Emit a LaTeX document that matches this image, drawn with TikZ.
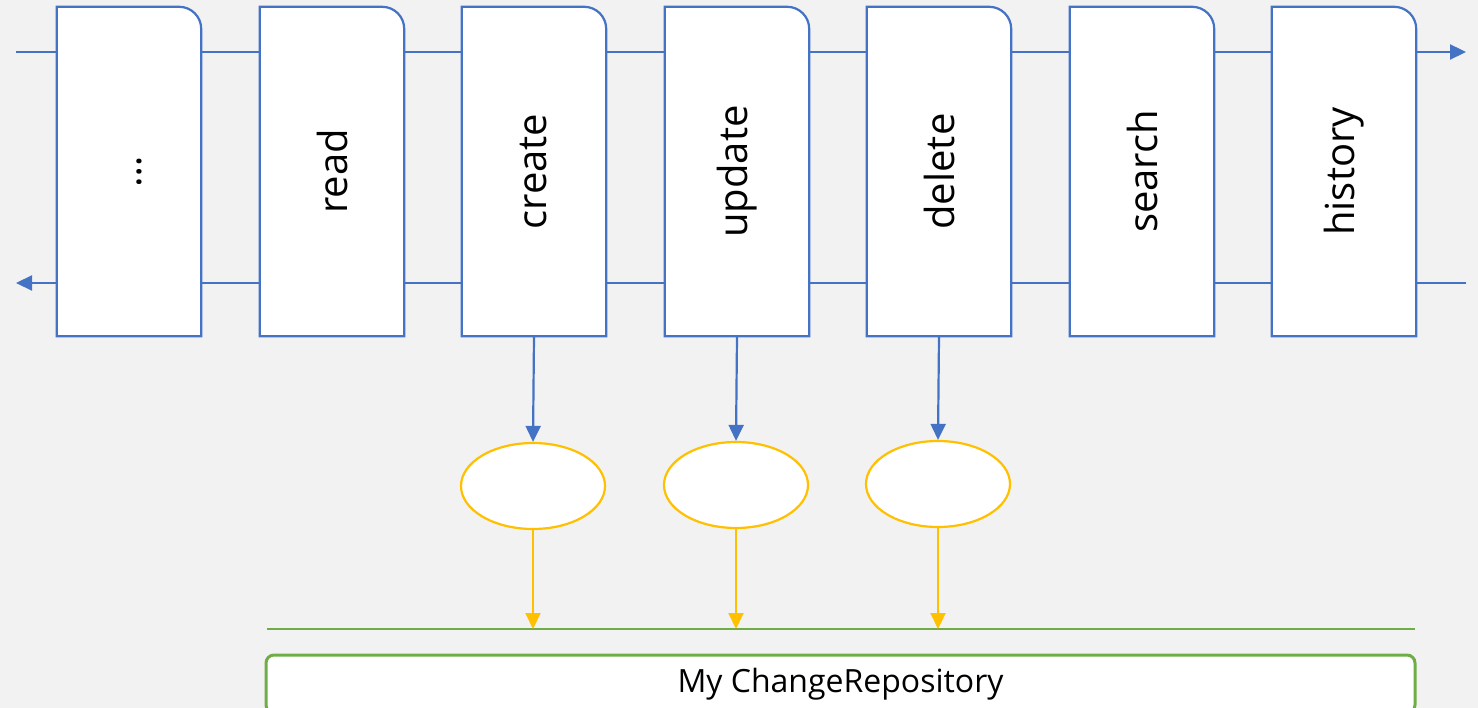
\documentclass[tikz,border=0pt]{standalone}
\usepackage{fontspec}
\setmainfont{Open Sans}
\usetikzlibrary{arrows.meta,shapes.geometric}
\definecolor{flowblue}{HTML}{4472C4}
\definecolor{evtyellow}{HTML}{FFC000}
\definecolor{repogreen}{HTML}{70AD47}
\definecolor{canvasgray}{HTML}{F2F2F2}
\pgfdeclarelayer{back}
\pgfdeclarelayer{mid}
\pgfsetlayers{back,mid,main}
% outline of an operation box: only the top right corner is rounded
\newcommand\opoutline[1]{%
  \draw[boxline] (#1.south west) -- (#1.north west)
    -- ([xshift=-22pt]#1.north east) arc[start angle=90,end angle=0,radius=22pt]
    -- (#1.south east) -- cycle;}
\begin{document}
\begin{tikzpicture}[x=1pt,y=1pt,
  opbox/.style={minimum width=144pt,minimum height=329pt,inner sep=0pt,
    font=\fontsize{40}{48}\selectfont},
  boxline/.style={draw=flowblue,fill=white,line width=2.2pt},
  tip/.style={-{Triangle[length=16pt,width=15pt]}},
  flow/.style={draw=flowblue,line width=2.2pt,tip},
  event/.style={ellipse,draw=evtyellow,fill=white,line width=2.2pt,
    minimum width=144pt,minimum height=86pt,inner sep=0pt},
  emit/.style={draw=evtyellow,line width=2.2pt,tip},
  repo/.style={draw=repogreen,fill=white,line width=3pt,rounded corners=8pt,
    minimum width=1149pt,minimum height=58pt,inner sep=0pt,
    font=\fontsize{32}{38}\selectfont}]
\useasboundingbox (0,0) rectangle (1478,-708);

% operation boxes
\node[opbox] (more)    at (129,-171.5)  {\hspace*{20pt}\rotatebox{90}{…}};
\node[opbox] (read)    at (332,-171.5)  {\rotatebox{90}{read}};
\node[opbox] (create)  at (534,-171.5)  {\rotatebox{90}{create}};
\node[opbox] (update)  at (737,-171.5)  {\rotatebox{90}{update}};
\node[opbox] (delete)  at (939,-171.5)  {\rotatebox{90}{delete}};
\node[opbox] (search)  at (1142,-171.5) {\rotatebox{90}{search}};
\node[opbox] (history) at (1344,-171.5) {\rotatebox{90}{history}};

% ends of the request and response lines
\coordinate (reqIn)   at (16,-52);
\coordinate (reqOut)  at (1466,-52);
\coordinate (respIn)  at (1466,-283);
\coordinate (respOut) at (16,-283);

\begin{pgfonlayer}{back}
  \fill[canvasgray] (0,0) rectangle (1478,-708);
  \draw[flow] (reqIn) -- (reqOut);
  \draw[flow] (respIn) -- (respOut);
\end{pgfonlayer}
\begin{pgfonlayer}{mid}
  \foreach \b in {more,read,create,update,delete,search,history}{\opoutline{\b}}
\end{pgfonlayer}

% change events
\node[event] (ecreate) at (533,-486) {};
\node[event] (eupdate) at (736,-485) {};
\node[event] (edelete) at (938,-484) {};

\draw[flow] (create.south) -- (ecreate.north);
\draw[flow] (update.south) -- (eupdate.north);
\draw[flow] (delete.south) -- (edelete.north);

% repository
\coordinate (gl) at (267,-629);
\coordinate (gr) at (1415,-629);
\draw[repogreen,line width=1.5pt] (gl) -- (gr);
\node[repo] (repository) at (840.5,-684) {My ChangeRepository};

\draw[emit] (ecreate.south) -- (ecreate.south |- gl);
\draw[emit] (eupdate.south) -- (eupdate.south |- gl);
\draw[emit] (edelete.south) -- (edelete.south |- gl);
\end{tikzpicture}
\end{document}
